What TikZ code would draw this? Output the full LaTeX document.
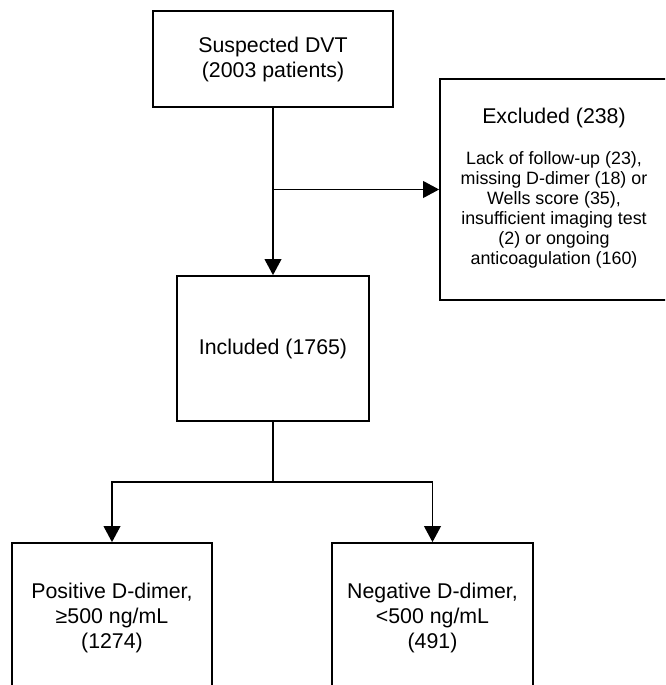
\documentclass[tikz,border=0pt]{standalone}
\usepackage{fontspec}
\setmainfont{Liberation Sans}
\usetikzlibrary{arrows.meta}

\begin{document}
\begin{tikzpicture}[x=0.75pt, y=-0.75pt]
    \tikzstyle{stage} = [rectangle, draw, line width=1.3pt, inner sep=0pt, align=center, font=\fontsize{16}{18.75}\selectfont]
    \tikzstyle{flow} = [line width=1.3pt, -{Triangle[length=12pt, width=12.5pt]}]
    \useasboundingbox (0,0) rectangle (665,685);
    \clip (0,0) rectangle (665,685);
    \node[stage, minimum width=240*0.75pt, minimum height=96*0.75pt] (susp) at (273, 59) {Suspected DVT\\(2003 patients)};
    \node[stage, minimum width=228*0.75pt, minimum height=221*0.75pt] (excl) at (554, 189.5)
        {Excluded (238)\\[12pt]{\fontsize{13.4}{15}\selectfont\begin{tabular}[t]{@{}c@{}}Lack of follow-up (23),\\ missing D-dimer (18) or\\ Wells score (35),\\ insufficient imaging test\\ (2) or ongoing\\ anticoagulation (160)\end{tabular}}};
    \node[stage, minimum width=192*0.75pt, minimum height=145*0.75pt] (incl) at (273, 348.5) {Included (1765)};
    \node[stage, minimum width=200*0.75pt, minimum height=150*0.75pt] (pos) at (112, 618) {Positive D-dimer,\\ ≥500 ng/mL\\ (1274)};
    \node[stage, minimum width=201*0.75pt, minimum height=150*0.75pt] (neg) at (432.5, 618) {Negative D-dimer,\\ <500 ng/mL\\ (491)};
    % split points on the vertical lines
    \coordinate (split) at (susp.south |- excl.west);
    \coordinate (fork) at (273, 482);
    \draw[flow] (susp) -- (incl);
    \draw[flow] (split) -- (excl);
    \draw[flow] (incl) -- (fork) -| (pos);
    \draw[flow] (fork) -| (neg);
\end{tikzpicture}
\end{document}
